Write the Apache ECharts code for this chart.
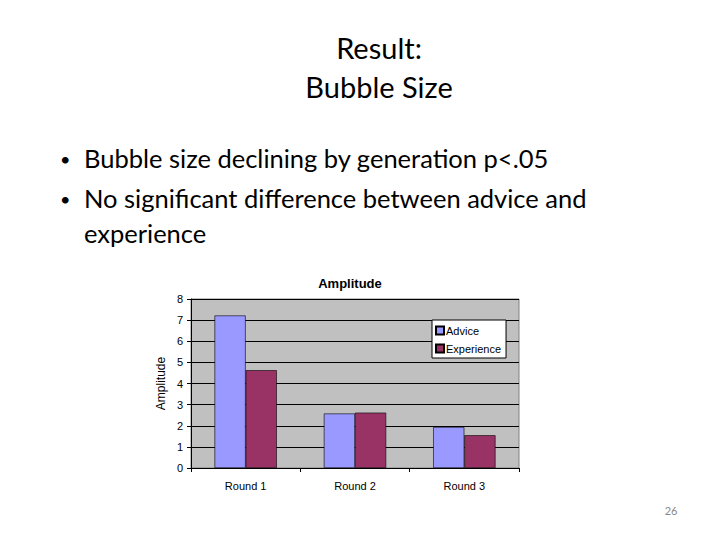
<!DOCTYPE html>
<html>
<head>
<meta charset="utf-8">
<script src="https://cdn.jsdelivr.net/npm/echarts@6/dist/echarts.min.js"></script>
<style>
html, body { margin: 0; padding: 0; background: #fff; }
#main { width: 720px; height: 540px; }
</style>
</head>
<body>
<div id="main"></div>
<script>
var rounds = ['Round 1', 'Round 2', 'Round 3'];
var advice = [7.22, 2.58, 1.94];
var experience = [4.63, 2.62, 1.55];
var yTicks = [0, 1, 2, 3, 4, 5, 6, 7, 8];
var slideTitle = ['Result:', 'Bubble Size'];
var bullets = ['Bubble size declining by generation p<.05', 'No significant difference between advice and', 'experience'];

var chart = echarts.init(document.getElementById('main'), null, { renderer: 'svg' });
var slideFont = 'Lato';
var chartFont = 'Liberation Sans';

function slideText(x, y, text, size, align, fill) {
	return {
		type: 'text', x: x, y: y,
		style: { text: text, font: size + 'px ' + slideFont, fill: fill || '#000', align: align || 'left', verticalAlign: 'middle' }
	};
}

var option = {
	animation: false,
	backgroundColor: '#fff',
	title: [{
		text: 'Amplitude',
		left: 345,
		top: 272,
		textAlign: 'center',
		textStyle: { fontFamily: chartFont, fontSize: 13, fontWeight: 'bold', color: '#000' }
	}],
	graphic: [
		slideText(379, 47, slideTitle[0], 29, 'center'),
		slideText(379, 86, slideTitle[1], 29, 'center'),
		slideText(60, 159, '\u2022', 18),
		slideText(84, 158, bullets[0], 25.5),
		slideText(60, 199, '\u2022', 18),
		slideText(84, 198, bullets[1], 25.5),
		slideText(84, 233, bullets[2], 25.5),
		slideText(671, 510, '26', 11, 'center', '#888')
	],
	legend: {
		orient: 'vertical',
		left: 432,
		top: 320,
		backgroundColor: '#fff',
		borderColor: '#000',
		borderWidth: 1,
		padding: [5, 5, 4, 3],
		itemGap: 7,
		itemWidth: 8,
		itemHeight: 8,
		icon: 'rect',
		textStyle: { fontFamily: chartFont, fontSize: 11, color: '#000', padding: [0, 0, 0, -3] },
		data: ['Advice', 'Experience']
	},
	grid: {
		left: 191,
		top: 299,
		width: 328,
		height: 169,
		show: true,
		backgroundColor: '#C0C0C0',
		borderColor: '#808080',
		borderWidth: 1
	},
	xAxis: {
		type: 'category',
		data: rounds,
		axisLine: { lineStyle: { color: '#000' } },
		axisTick: { show: true, length: 4, lineStyle: { color: '#000' } },
		axisLabel: { fontFamily: chartFont, fontSize: 11, color: '#000', margin: 12 }
	},
	yAxis: {
		type: 'value',
		min: yTicks[0],
		max: yTicks[yTicks.length - 1],
		interval: 1,
		name: 'Amplitude',
		nameLocation: 'middle',
		nameGap: 24,
		nameTextStyle: { fontFamily: chartFont, fontSize: 12, color: '#000' },
		axisLine: { show: true, lineStyle: { color: '#000' } },
		axisTick: { show: true, length: 4, lineStyle: { color: '#000' } },
		axisLabel: { fontFamily: chartFont, fontSize: 11, color: '#000', margin: 8 },
		splitLine: { lineStyle: { color: '#000', width: 1 } }
	},
	series: [{
		name: 'Advice',
		type: 'bar',
		data: advice,
		barGap: '0%',
		barCategoryGap: '43%',
		itemStyle: { color: '#9999FF', borderColor: '#000', borderWidth: 0.6 }
	}, {
		name: 'Experience',
		type: 'bar',
		data: experience,
		itemStyle: { color: '#993366', borderColor: '#000', borderWidth: 0.6 }
	}]
};
chart.setOption(option);
</script>
</body>
</html>
